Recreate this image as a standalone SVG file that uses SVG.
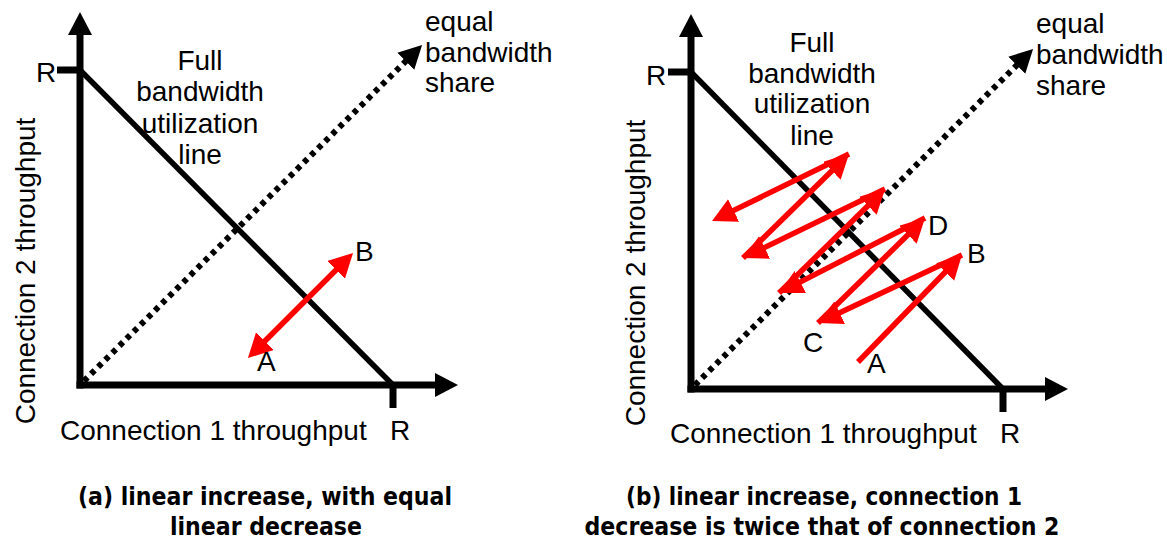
<svg xmlns="http://www.w3.org/2000/svg" width="1167" height="542" viewBox="0 0 1167 542">
<style>
.t{font-family:"Liberation Sans",Arial,sans-serif;font-size:28px;fill:#000}
.c{font-family:"Liberation Sans Narrow","DejaVu Sans Condensed","Liberation Sans",sans-serif;font-size:25px;font-weight:bold;fill:#000}
.ax{stroke:#000;stroke-width:7;fill:none}
.dg{stroke:#000;stroke-width:5.5;fill:none}
.dot{stroke:#000;stroke-width:6;stroke-dasharray:5 5;fill:none}
.red{stroke:#ff0000;stroke-width:5.5;fill:none}
</style>
<defs>
<marker id="ahk" markerUnits="userSpaceOnUse" markerWidth="26" markerHeight="26" viewBox="0 0 26 26" refX="13" refY="12" orient="auto-start-reverse"><path d="M0,0 L23,12 L0,24 z" fill="#000"/></marker>
<marker id="ahr" markerUnits="userSpaceOnUse" markerWidth="26" markerHeight="26" viewBox="0 0 26 26" refX="14" refY="12.5" orient="auto-start-reverse"><path d="M0,0 L24,12.5 L0,25 z" fill="#ff0000"/></marker>
</defs>
<rect width="1167" height="542" fill="#fff"/>
<g id="panel-a">
  <g id="a-axes">
    <line class="ax" x1="80" y1="388.5" x2="80" y2="22" marker-end="url(#ahk)"/>
    <line class="ax" x1="76.5" y1="385" x2="448" y2="385" marker-end="url(#ahk)"/>
    <line class="ax" x1="57" y1="70" x2="80" y2="70"/>
    <line class="ax" x1="393" y1="385" x2="393" y2="408"/>
  </g>
  <g id="a-connectors">
    <line class="dg" x1="80" y1="70" x2="393" y2="385"/>
    <line class="dot" x1="84" y1="381" x2="415" y2="52" marker-end="url(#ahk)"/>
    <line class="red" x1="255" y1="351" x2="346" y2="260" marker-start="url(#ahr)" marker-end="url(#ahr)"/>
  </g>
  <g id="a-labels">
    <text class="t" x="36" y="82">R</text>
    <text class="t" x="390" y="440">R</text>
    <text class="t" x="60" y="440">Connection 1 throughput</text>
    <text class="t" transform="translate(35,271) rotate(-90)" text-anchor="middle">Connection 2 throughput</text>
    <text class="t" x="200" y="70" text-anchor="middle">Full</text>
    <text class="t" x="200" y="101" text-anchor="middle">bandwidth</text>
    <text class="t" x="200" y="133" text-anchor="middle">utilization</text>
    <text class="t" x="200" y="164" text-anchor="middle">line</text>
    <text class="t" x="425" y="31">equal</text>
    <text class="t" x="425" y="62">bandwidth</text>
    <text class="t" x="425" y="92">share</text>
    <text class="t" x="355" y="261">B</text>
    <text class="t" x="257" y="371">A</text>
  </g>
  <g id="a-caption">
    <text class="c" x="265" y="505" text-anchor="middle" textLength="374" lengthAdjust="spacingAndGlyphs">(a) linear increase, with equal</text>
    <text class="c" x="266" y="535" text-anchor="middle" textLength="192" lengthAdjust="spacingAndGlyphs">linear decrease</text>
  </g>
</g>
<g id="panel-b">
  <g id="b-axes">
    <line class="ax" x1="691" y1="392.5" x2="691" y2="24" marker-end="url(#ahk)"/>
    <line class="ax" x1="687.5" y1="389" x2="1058" y2="389" marker-end="url(#ahk)"/>
    <line class="ax" x1="668" y1="72" x2="691" y2="72"/>
    <line class="ax" x1="1003" y1="389" x2="1003" y2="412"/>
  </g>
  <g id="b-connectors">
    <line class="dg" x1="691" y1="72" x2="1003" y2="389"/>
    <line class="dot" x1="695" y1="385" x2="1026" y2="56" marker-end="url(#ahk)"/>
    <line class="red" x1="858" y1="362" x2="955" y2="262" marker-end="url(#ahr)"/>
    <line class="red" x1="962" y1="255" x2="827" y2="318.7" marker-end="url(#ahr)"/>
    <line class="red" x1="818" y1="323" x2="917.9" y2="225" marker-end="url(#ahr)"/>
    <line class="red" x1="925" y1="218" x2="787.9" y2="288.4" marker-end="url(#ahr)"/>
    <line class="red" x1="779" y1="293" x2="877.9" y2="196" marker-end="url(#ahr)"/>
    <line class="red" x1="885" y1="189" x2="752" y2="253.6" marker-end="url(#ahr)"/>
    <line class="red" x1="743" y1="258" x2="841.9" y2="161" marker-end="url(#ahr)"/>
    <line class="red" x1="849" y1="154" x2="721" y2="216.6" marker-end="url(#ahr)"/>
  </g>
  <g id="b-labels">
    <text class="t" x="646" y="85">R</text>
    <text class="t" x="1000" y="443">R</text>
    <text class="t" x="670" y="443">Connection 1 throughput</text>
    <text class="t" transform="translate(645,273) rotate(-90)" text-anchor="middle">Connection 2 throughput</text>
    <text class="t" x="812" y="52" text-anchor="middle">Full</text>
    <text class="t" x="812" y="83" text-anchor="middle">bandwidth</text>
    <text class="t" x="812" y="113" text-anchor="middle">utilization</text>
    <text class="t" x="812" y="145" text-anchor="middle">line</text>
    <text class="t" x="1036" y="33">equal</text>
    <text class="t" x="1036" y="64">bandwidth</text>
    <text class="t" x="1036" y="95">share</text>
    <text class="t" x="867" y="373">A</text>
    <text class="t" x="967" y="263">B</text>
    <text class="t" x="803" y="352">C</text>
    <text class="t" x="928" y="235">D</text>
  </g>
  <g id="b-caption">
    <text class="c" x="824" y="505" text-anchor="middle" textLength="396" lengthAdjust="spacingAndGlyphs">(b) linear increase, connection 1</text>
    <text class="c" x="822" y="535" text-anchor="middle" textLength="475" lengthAdjust="spacingAndGlyphs">decrease is twice that of connection 2</text>
  </g>
</g>
</svg>
